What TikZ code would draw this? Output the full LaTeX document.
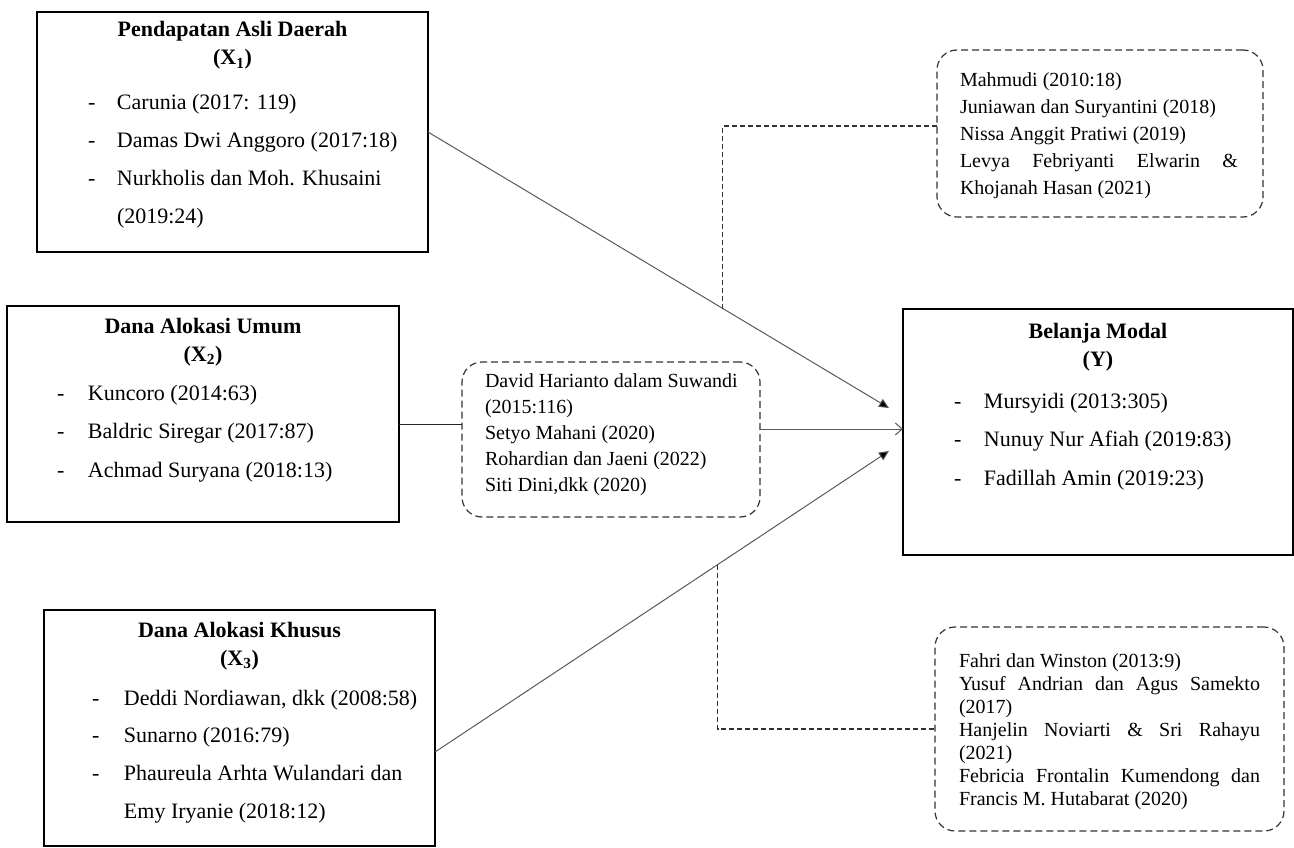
\documentclass[tikz,border=0pt]{standalone}
\usepackage{fontspec}
\setmainfont{Liberation Serif}
\usetikzlibrary{arrows.meta,calc}
\newcommand{\ttlbox}[2]{\begin{minipage}[t]{380pt}\centering\bfseries\fontsize{22}{28}\selectfont #1\\(#2)\end{minipage}}
\newcommand{\itm}[2]{\makebox[#1][l]{-}#2}
\begin{document}
\begin{tikzpicture}[x=1pt,y=-1pt,
  box/.style={draw=black, line width=1.3pt, inner sep=0pt, outer sep=0pt, anchor=north west},
  dbox/.style={draw=black!80, line width=1.2pt, dash pattern=on 7pt off 4pt, rounded corners=20pt, inner sep=0pt, outer sep=0pt, anchor=north west},
  txt/.style={anchor=base west, inner sep=0pt, outer sep=0pt},
  ttl/.style={anchor=base, inner sep=0pt, outer sep=0pt},
  solidarrow/.style={draw=black!65, line width=1pt, -{Triangle[length=10pt,width=9pt,fill=black]}},
  openarrow/.style={draw=black!65, line width=1pt, -{Straight Barb[length=7pt,width=12pt]}},
  plainline/.style={draw=black!85, line width=1pt},
  dconn/.style={draw=black!80, line width=1.1pt, dash pattern=on 5pt off 3pt}
]
\useasboundingbox (0,0) rectangle (1294,848);

% boxes
\node[box, minimum width=391pt, minimum height=240pt] (pad) at (37,12) {};
\node[box, minimum width=392pt, minimum height=216pt] (dau) at (7,306) {};
\node[box, minimum width=391pt, minimum height=236pt] (dak) at (44,610) {};
\node[box, minimum width=390pt, minimum height=246pt] (ym) at (903,309) {};
\node[dbox, minimum width=326pt, minimum height=167pt] (tr) at (937,50) {};
\node[dbox, minimum width=298pt, minimum height=155pt] (mid) at (462,362) {};
\node[dbox, minimum width=349pt, minimum height=204pt] (br) at (935,627) {};

% titles
\node[ttl] (padt) at (232.5,37) {\ttlbox{Pendapatan Asli Daerah}{X\textsubscript{1}}};
\node[ttl] (daut) at (203,333) {\ttlbox{Dana Alokasi Umum}{X\textsubscript{2}}};
\node[ttl] (dakt) at (239.5,637) {\ttlbox{Dana Alokasi Khusus}{X\textsubscript{3}}};
\node[ttl] (ymt) at (1098,338) {\ttlbox{Belanja Modal}{Y}};

% lists
\node[txt] (padl) at (88,110) {\begin{minipage}[t]{330pt}\raggedright\fontsize{22}{37.7}\selectfont
\itm{29pt}{Carunia (2017: 119)}\\
\itm{29pt}{Damas Dwi Anggoro (2017:18)}\\
\itm{29pt}{Nurkholis dan Moh. Khusaini}\\
\hspace*{29pt}(2019:24)\end{minipage}};
\node[txt] (daul) at (57,400) {\begin{minipage}[t]{330pt}\raggedright\fontsize{22}{38.5}\selectfont
\itm{31pt}{Kuncoro (2014:63)}\\
\itm{31pt}{Baldric Siregar (2017:87)}\\
\itm{31pt}{Achmad Suryana (2018:13)}\end{minipage}};
\node[txt] (dakl) at (92,705) {\begin{minipage}[t]{330pt}\raggedright\fontsize{22}{37.7}\selectfont
\itm{32pt}{Deddi Nordiawan, dkk (2008:58)}\\
\itm{32pt}{Sunarno (2016:79)}\\
\itm{32pt}{Phaureula Arhta Wulandari dan}\\
\hspace*{32pt}Emy Iryanie (2018:12)\end{minipage}};
\node[txt] (yml) at (954,408) {\begin{minipage}[t]{330pt}\raggedright\fontsize{22}{38.5}\selectfont
\itm{30pt}{Mursyidi (2013:305)}\\
\itm{30pt}{Nunuy Nur Afiah (2019:83)}\\
\itm{30pt}{Fadillah Amin (2019:23)}\end{minipage}};

% dashed box texts
\node[txt] (trl) at (960,87) {\begin{minipage}[t]{278pt}\fontsize{20}{27}\selectfont
Mahmudi (2010:18)\\
Juniawan dan Suryantini (2018)\\
Nissa Anggit Pratiwi (2019)\\
\makebox[\linewidth][s]{Levya Febriyanti Elwarin \&}\\
Khojanah Hasan (2021)\end{minipage}};
\node[txt] (midl) at (485,387) {\begin{minipage}[t]{270pt}\fontsize{20}{26}\selectfont
David Harianto dalam Suwandi\\
(2015:116)\\
Setyo Mahani (2020)\\
Rohardian dan Jaeni (2022)\\
Siti Dini,dkk (2020)\end{minipage}};
\node[txt] (brl) at (959,667) {\begin{minipage}[t]{301pt}\fontsize{20}{23}\selectfont
Fahri dan Winston (2013:9)\\
\makebox[\linewidth][s]{Yusuf Andrian dan Agus Samekto}\\
(2017)\\
\makebox[\linewidth][s]{Hanjelin Noviarti \& Sri Rahayu}\\
(2021)\\
\makebox[\linewidth][s]{Febricia Frontalin Kumendong dan}\\
Francis M. Hutabarat (2020)\end{minipage}};

% connector coordinates
\coordinate (y1) at (0,132);
\coordinate (y2) at (0,424);
\coordinate (y3) at (0,429);
\coordinate (y4) at (0,752);
\coordinate (t1) at (889,408);
\coordinate (t3) at (889,451);
\coordinate (s1) at (pad.east |- y1);
\coordinate (s3) at (dak.east |- y4);
\coordinate (m1) at ($(s1)!0.6397!(t1)$);
\coordinate (m2) at ($(s3)!0.6225!(t3)$);

% connectors
\draw[solidarrow] (s1) -- (t1);
\draw[solidarrow] (s3) -- (t3);
\draw[plainline] (dau.east |- y2) -- (mid.west |- y2);
\draw[openarrow] (mid.east |- y3) -- (ym.west |- y3);
\draw[dconn] (m1) |- ($(tr.west)+(0,-7.5)$);
\draw[dconn] (m2) |- (br.west);
\end{tikzpicture}
\end{document}
